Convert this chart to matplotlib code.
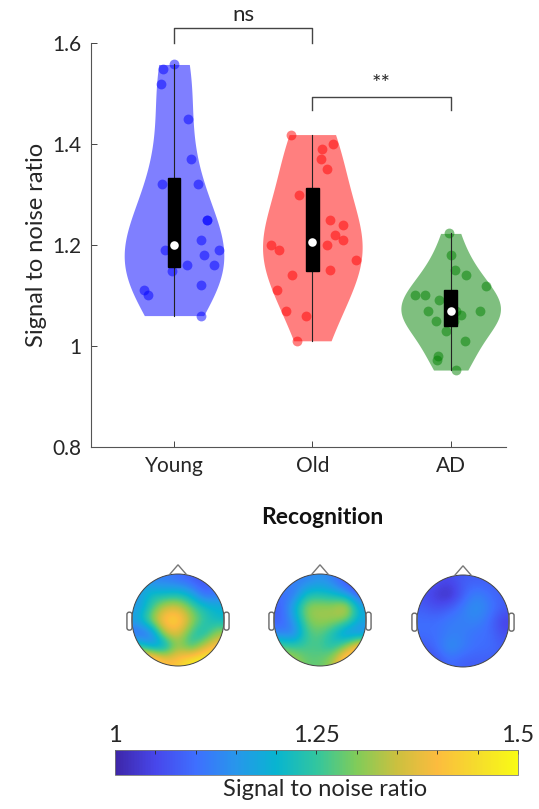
import numpy as np
import matplotlib
matplotlib.use('Agg')
import matplotlib.pyplot as plt
from matplotlib.colors import LinearSegmentedColormap, Normalize
from matplotlib.patches import Circle, Polygon, FancyBboxPatch, Rectangle
from matplotlib.cm import ScalarMappable

plt.rcParams['font.family'] = ['Lato', 'DejaVu Sans']

# ---- data ----
groups = ['Young', 'Old', 'AD']
group_colors = ['#0000ff', '#ff0000', '#008000']

young_snr = [1.558, 1.55, 1.52, 1.45, 1.37, 1.32, 1.32, 1.25, 1.25, 1.21,
             1.19, 1.19, 1.18, 1.16, 1.16, 1.149, 1.12, 1.11, 1.10, 1.06]
young_jitter = [0.0, -0.082, -0.094, 0.104, 0.123, -0.085, 0.171, 0.237, 0.242, 0.198,
                -0.068, 0.324, 0.217, 0.287, 0.094, -0.012, 0.198, -0.217, -0.186, 0.193]

old_snr = [1.419, 1.40, 1.39, 1.37, 1.35, 1.30, 1.25, 1.24, 1.22, 1.21,
           1.20, 1.20, 1.19, 1.17, 1.15, 1.14, 1.11, 1.07, 1.06, 1.01]
old_jitter = [-0.152, 0.150, 0.068, 0.060, 0.109, -0.097, 0.126, 0.222, 0.162, 0.222,
              -0.302, 0.109, -0.242, 0.314, 0.126, -0.145, -0.256, -0.193, -0.046, -0.109]

ad_snr = [1.223, 1.18, 1.15, 1.14, 1.119, 1.101, 1.101, 1.09, 1.07, 1.07,
          1.07, 1.061, 1.05, 1.05, 1.03, 1.01, 0.98, 0.971, 0.952]
ad_jitter = [-0.012, 0.0, 0.031, 0.109, 0.256, -0.258, -0.186, -0.085, -0.162, 0.036,
             0.210, 0.077, -0.104, 0.024, -0.031, 0.104, -0.092, -0.097, 0.036]

# significance brackets: (left group, right group, lower y, upper y, label)
brackets = [(1, 2, 1.600, 1.631, 'ns'), (2, 3, 1.468, 1.494, '**')]

# topographies (7x7 coarse grid, rows front->back)
topo_young = [[1.18, 1.12, 1.12, 1.10, 1.08, 1.06, 1.12],
              [1.15, 1.22, 1.20, 1.22, 1.18, 1.08, 1.10],
              [1.15, 1.25, 1.35, 1.36, 1.28, 1.22, 1.20],
              [1.18, 1.32, 1.44, 1.46, 1.33, 1.25, 1.20],
              [1.08, 1.10, 1.35, 1.38, 1.25, 1.20, 1.32],
              [1.25, 1.15, 1.15, 1.32, 1.22, 1.35, 1.42],
              [1.48, 1.50, 1.40, 1.42, 1.48, 1.50, 1.50]]
topo_old = [[1.15, 1.12, 1.12, 1.15, 1.12, 1.06, 1.03],
            [1.10, 1.10, 1.22, 1.22, 1.20, 1.15, 1.06],
            [1.08, 1.18, 1.32, 1.32, 1.32, 1.38, 1.18],
            [1.08, 1.15, 1.30, 1.32, 1.32, 1.30, 1.18],
            [1.12, 1.10, 1.26, 1.28, 1.22, 1.12, 1.12],
            [1.28, 1.25, 1.26, 1.26, 1.22, 1.30, 1.45],
            [1.35, 1.33, 1.28, 1.28, 1.32, 1.48, 1.48]]
topo_ad = [[1.08, 1.06, 1.05, 1.08, 1.08, 1.08, 1.08],
           [1.06, 1.03, 1.01, 1.08, 1.13, 1.10, 1.08],
           [1.08, 1.06, 1.08, 1.12, 1.15, 1.12, 1.08],
           [1.10, 1.10, 1.12, 1.12, 1.13, 1.10, 1.04],
           [1.10, 1.10, 1.12, 1.12, 1.10, 1.10, 1.06],
           [1.07, 1.10, 1.15, 1.12, 1.10, 1.10, 1.08],
           [1.05, 1.06, 1.10, 1.08, 1.08, 1.08, 1.08]]

cbar_ticks = [1, 1.25, 1.5]

# parula-like colormap
parula = LinearSegmentedColormap.from_list('parula', [
    (0.2422, 0.1504, 0.6603), (0.2803, 0.2782, 0.9221), (0.2440, 0.4358, 0.9988),
    (0.1540, 0.5902, 0.9218), (0.0297, 0.7082, 0.8163), (0.1938, 0.7758, 0.6251),
    (0.5044, 0.7993, 0.3480), (0.7974, 0.7534, 0.2470), (0.9871, 0.7348, 0.2438),
    (0.9610, 0.8633, 0.1724), (0.9769, 0.9839, 0.0805)])

W, H = 539, 809
fig = plt.figure(figsize=(W / 100, H / 100), dpi=100)

def px_axes(x0, y0, x1, y1):
    # pixel box (top-left origin) -> figure axes
    return fig.add_axes([x0 / W, 1 - y1 / H, (x1 - x0) / W, (y1 - y0) / H])

def kde(vals, grid):
    vals = np.asarray(vals)
    n = len(vals)
    sig = np.median(np.abs(vals - np.median(vals))) / 0.6745
    bw = 1.25 * sig * (4 / (3 * n)) ** 0.2
    d = np.exp(-0.5 * ((grid[:, None] - vals[None, :]) / bw) ** 2).sum(axis=1)
    return d / d.max()

ax = px_axes(91, 43.3, 506, 446.7)
axis_col = '#262626'

all_snr = [young_snr, old_snr, ad_snr]
all_jit = [young_jitter, old_jitter, ad_jitter]
half_w = 0.36
for i, (vals, jit, col) in enumerate(zip(all_snr, all_jit, group_colors)):
    pos = i + 1
    yy = np.linspace(min(vals), max(vals), 200)
    dens = kde(vals, yy) * half_w
    ax.fill_betweenx(yy, pos - dens, pos + dens, color=col, alpha=0.5, lw=0)
    ax.scatter(pos + np.asarray(jit), vals, s=50, color=col, alpha=0.5, lw=0, zorder=3)
    ax.plot([pos, pos], [min(vals), max(vals)], color='#222222', lw=0.8, zorder=4)
    q1, med, q3 = np.percentile(vals, [25, 50, 75])
    ax.add_patch(Rectangle((pos - 0.046, q1), 0.092, q3 - q1, color='black', zorder=5))
    ax.scatter([pos], [med], s=38, color='white', lw=0, zorder=6)

for a, b, y_lo, y_hi, lab in brackets:
    ax.plot([a, a, b, b], [y_lo, y_hi, y_hi, y_lo], color='#444444', lw=1, clip_on=False)
    ax.text((a + b) / 2, y_hi + 0.006, lab, ha='center', va='bottom', fontsize=16,
            color=axis_col, clip_on=False)

ax.set_xlim(0.4, 3.4)
ax.set_ylim(0.8, 1.6)
ax.set_xticks([1, 2, 3])
ax.set_xticklabels(groups)
ax.set_yticks([0.8, 1.0, 1.2, 1.4, 1.6])
ax.set_yticklabels(['0.8', '1', '1.2', '1.4', '1.6'])
ax.tick_params(direction='in', length=4, width=0.6, colors=axis_col, labelsize=15, pad=7)
for s in ['top', 'right']:
    ax.spines[s].set_visible(False)
for s in ['left', 'bottom']:
    ax.spines[s].set_color('#555555')
    ax.spines[s].set_linewidth(0.8)
ax.set_ylabel('Signal to noise ratio', fontsize=17, color=axis_col, labelpad=4)

fig.text(322 / W, 1 - 518 / H, 'Recognition', ha='center', va='center',
         fontsize=16.5, fontweight='bold', color='#111111')

norm = Normalize(1.0, 1.5)
head_centers = [(178, 620), (320, 620), (463, 621)]
radius = 46
for (cx, cy), grid in zip(head_centers, [topo_young, topo_old, topo_ad]):
    hx = px_axes(cx - 70, cy - 70, cx + 70, cy + 70)
    hx.set_xlim(-70 / radius, 70 / radius)
    hx.set_ylim(-70 / radius, 70 / radius)
    hx.axis('off')
    im = hx.imshow(np.array(grid), cmap=parula, norm=norm, extent=[-1, 1, -1, 1],
                   origin='upper', interpolation='bicubic')
    clip = Circle((0, 0), 1.0, transform=hx.transData)
    im.set_clip_path(clip)
    hx.add_patch(Circle((0, 0), 1.0, fill=False, ec='#444444', lw=0.7))
    hx.add_patch(Polygon([(-0.19, 0.98), (0, 1.2), (0.19, 0.98)], closed=False,
                         fill=False, ec='#777777', lw=1))
    for sgn in (-1, 1):
        x0 = 1.0 if sgn > 0 else -1.11
        hx.add_patch(FancyBboxPatch((x0, -0.22), 0.11, 0.39,
                                    boxstyle='round,pad=0,rounding_size=0.05',
                                    fill=False, ec='#666666', lw=1))

cax = px_axes(115, 750, 518, 775)
sm = ScalarMappable(norm=norm, cmap=parula)
cb = fig.colorbar(sm, cax=cax, orientation='horizontal', ticklocation='top')
cb.set_ticks(cbar_ticks)
cb.set_ticklabels(['1', '1.25', '1.5'])
cb.ax.set_xticks(np.arange(1.0, 1.501, 0.05), minor=True)
cb.ax.tick_params(which='both', direction='in', colors=axis_col, width=0.6)
cb.ax.tick_params(which='major', length=3, labelsize=17, pad=3)
cb.ax.tick_params(which='minor', length=3)
cb.outline.set_edgecolor('#777777')
cb.outline.set_linewidth(0.6)
fig.text(325 / W, 1 - 790 / H, 'Signal to noise ratio', ha='center', va='center',
         fontsize=17, color=axis_col)

fig.savefig('out.png', dpi=100)
